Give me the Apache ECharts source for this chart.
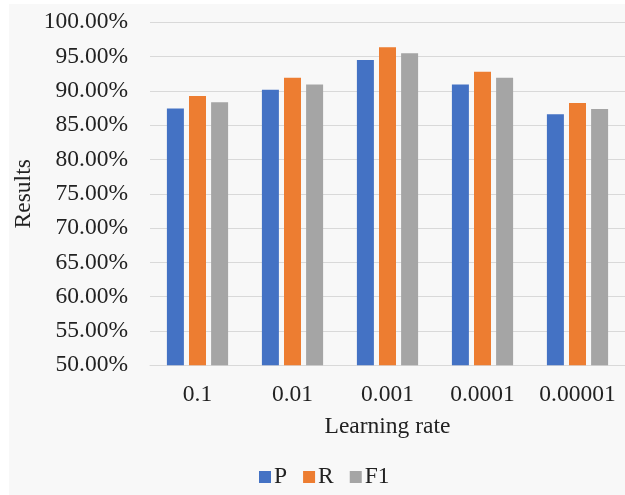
<!DOCTYPE html>
<html>
<head>
<meta charset="utf-8">
<script src="https://cdn.jsdelivr.net/npm/echarts@6/dist/echarts.min.js"></script>
<style>
html,body{margin:0;padding:0;background:#ffffff;}
#chart{width:625px;height:495px;}
</style>
</head>
<body>
<div id="chart"></div>
<script>
var categories = ['0.1', '0.01', '0.001', '0.0001', '0.00001'];
var seriesNames = ['P', 'R', 'F1'];
var valuesP = [87.45, 90.15, 94.5, 90.95, 86.6];
var valuesR = [89.25, 91.9, 96.35, 92.8, 88.25];
var valuesF1 = [88.35, 90.95, 95.5, 91.9, 87.35];
var colors = ['#4472C4', '#ED7D31', '#A5A5A5'];
var yMin = 50, yMax = 100, yStep = 5;

var font = '"Liberation Serif", "Times New Roman", serif';
var fs = 23.5;
var chart = echarts.init(document.getElementById('chart'));
var allValues = [valuesP, valuesR, valuesF1];
chart.setOption({
  backgroundColor: '#ffffff',
  animation: false,
  color: colors,
  textStyle: { fontFamily: font },
  graphic: [{
    type: 'rect', left: 9, top: 4, z: -10,
    shape: { width: 616, height: 491 },
    style: { fill: '#f8f8f8' }
  }],
  grid: { left: 150, top: 22.3, width: 479, height: 343, containLabel: false },
  legend: {
    left: 254, top: 460,
    itemWidth: 12, itemHeight: 12, itemGap: 16,
    icon: 'rect',
    textStyle: { fontFamily: font, fontSize: fs, color: '#222', padding: [0, 0, 0, -2] },
    data: seriesNames
  },
  xAxis: {
    type: 'category',
    data: categories,
    name: 'Learning rate',
    nameLocation: 'middle',
    nameGap: 50,
    nameMoveOverlap: false,
    nameTextStyle: { fontFamily: font, fontSize: fs, color: '#222' },
    axisLine: { lineStyle: { color: '#d9d9d9', width: 1 } },
    axisTick: { show: false },
    axisLabel: { fontFamily: font, fontSize: fs, color: '#222', margin: 18, interval: 0, hideOverlap: false }
  },
  yAxis: {
    type: 'value',
    min: yMin, max: yMax, interval: yStep,
    name: 'Results',
    nameLocation: 'middle',
    nameGap: 114,
    nameMoveOverlap: false,
    nameTextStyle: { fontFamily: font, fontSize: fs, color: '#222' },
    axisLine: { show: false },
    axisTick: { show: false },
    splitLine: { lineStyle: { color: '#d9d9d9', width: 1 } },
    axisLabel: {
      fontFamily: font, fontSize: fs, color: '#222', margin: 22,
      formatter: function (v) { return v.toFixed(2) + '%'; }
    }
  },
  series: seriesNames.map(function (n, i) {
    return {
      name: n, type: 'bar', data: allValues[i],
      barWidth: 17, barGap: '30%'
    };
  })
});
</script>
</body>
</html>
